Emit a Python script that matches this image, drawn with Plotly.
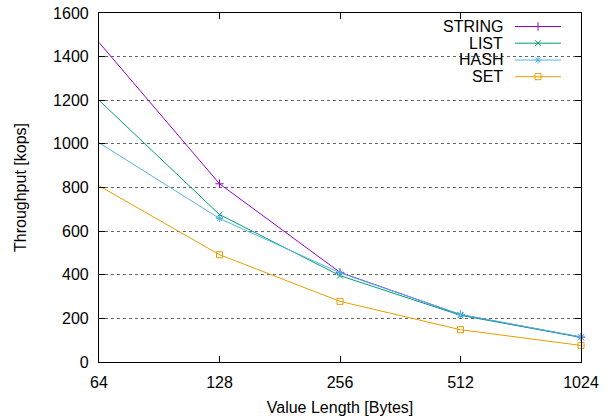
import plotly.graph_objects as go

value_lengths = [64, 128, 256, 512, 1024]
string_kops = [1465, 817, 411, 217, 114]
list_kops = [1200, 676, 396, 214, 113]
hash_kops = [1005, 658, 409, 218, 115]
set_kops = [808, 492, 278, 148, 76]

series_names = ["STRING", "LIST", "HASH", "SET"]
series_values = [string_kops, list_kops, hash_kops, set_kops]
colors = ["#9400D3", "#009E73", "#56B4E9", "#E69F00"]
symbols = ["cross-thin-open", "x-thin-open", "asterisk-open", "square-open"]
y_ticks = [0, 200, 400, 600, 800, 1000, 1200, 1400, 1600]

FONT = "Liberation Sans, Arial, sans-serif"
L, R, T, B = 99, 32, 13, 54
W, H = 613 - L - R, 416 - T - B

fig = go.Figure()
for name, vals, c, s in zip(series_names, series_values, colors, symbols):
    fig.add_trace(go.Scatter(
        x=value_lengths, y=vals, mode="lines+markers", name=name,
        line=dict(color=c, width=1),
        marker=dict(symbol=s, size=6, color=c, line=dict(color=c, width=1)),
        showlegend=False, cliponaxis=False,
    ))

def px_x(px):
    return (px - L) / W

def px_y(py):
    return 1 - (py - T) / H

# manual gnuplot-style legend (text right, sample on the right)
shapes = [dict(type="rect", xref="paper", yref="paper", x0=px_x(445), x1=px_x(571),
               y0=px_y(88), y1=px_y(14), fillcolor="white", line=dict(width=0), layer="between")]
annotations = []
row_y = [26.5, 43.2, 60, 76.7]
for name, c, s, ry in zip(series_names, colors, symbols, row_y):
    yp = px_y(ry)
    shapes.append(dict(type="line", xref="paper", yref="paper", x0=px_x(515), x1=px_x(561),
                       y0=yp, y1=yp, line=dict(color=c, width=1), layer="above"))
    annotations.append(dict(xref="paper", yref="paper", x=px_x(505), y=yp, text=name,
                            showarrow=False, xanchor="right", yanchor="middle",
                            font=dict(family=FONT, size=16, color="black")))
    fig.add_trace(go.Scatter(
        x=[px_x(538)], y=[yp], mode="markers", xaxis="x2", yaxis="y2",
        marker=dict(symbol=s, size=6, color=c, line=dict(color=c, width=1)),
        showlegend=False, hoverinfo="skip", cliponaxis=False,
    ))

fig.update_layout(
    width=613, height=416,
    margin=dict(l=L, r=R, t=T, b=B, autoexpand=False),
    paper_bgcolor="white", plot_bgcolor="white",
    font=dict(family=FONT, size=16, color="black"),
    shapes=shapes, annotations=annotations,
    xaxis=dict(
        type="log", range=[1.80618, 3.01030], tickvals=value_lengths,
        ticktext=[str(v) for v in value_lengths],
        ticks="inside", ticklen=6, tickcolor="black", tickwidth=1,
        showline=True, linecolor="black", linewidth=1.2, mirror="ticks",
        showgrid=False, zeroline=False, ticklabelstandoff=6, automargin=False,
        title=dict(text="Value Length [Bytes]", standoff=13, font=dict(size=16)),
        tickfont=dict(size=16),
    ),
    yaxis=dict(
        range=[0, 1600], tickvals=y_ticks,
        ticks="inside", ticklen=6, tickcolor="black", tickwidth=1,
        showline=True, linecolor="black", linewidth=1.2, mirror="ticks",
        showgrid=True, gridcolor="#666666", griddash="dot", gridwidth=1,
        zeroline=False, ticklabelstandoff=6, automargin=False,
        title=dict(text="Throughput [kops]", standoff=22, font=dict(size=16)),
        tickfont=dict(size=16),
    ),
    xaxis2=dict(overlaying="x", range=[0, 1], visible=False, anchor="y2"),
    yaxis2=dict(overlaying="y", range=[0, 1], visible=False, anchor="x2"),
)

fig.write_html("out.html")
